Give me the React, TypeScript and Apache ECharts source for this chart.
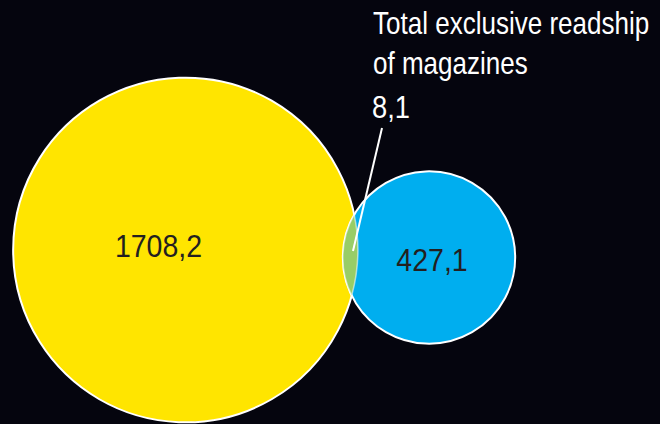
import React, { useEffect, useRef } from "react";
import * as echarts from "echarts";

// ---- data ----
const setNames = ["Set A", "Set B"];
const setValues = [1708.2, 427.1];
const overlapValue = 8.1;
const annotationLines = ["Total exclusive readship", "of magazines"];

// ---- layout / style ----
const W = 660;
const H = 424;
const centers = [
  [185.5, 250],
  [429, 257.5],
];
const labelOffsets = [
  [-27, -4],
  [3, 2.5],
];
const RADIUS_K = 4.17; // px per sqrt(value)
const colors = ["#FFE500", "#00AEEF"];
const lensColor = "#98CD67";
const bg = "#05050E";
const FONT = "'Liberation Sans', Arial, sans-serif";

const fmt = (v: number) => v.toFixed(1).replace(".", ",");

export default function App() {
  const ref = useRef<HTMLDivElement>(null);
  useEffect(() => {
    document.body.style.margin = "0";
    const chart = echarts.init(ref.current!, null, { renderer: "svg" });
    const circleData = setValues.map((v, i) => ({
      name: setNames[i],
      value: [centers[i][0], centers[i][1], v],
    }));
    chart.setOption({
      animation: false,
      backgroundColor: bg,
      grid: { left: 0, right: 0, top: 0, bottom: 0 },
      xAxis: { type: "value", min: 0, max: W, show: false },
      yAxis: { type: "value", min: 0, max: H, inverse: true, show: false },
      series: [
        {
          type: "custom",
          coordinateSystem: "cartesian2d",
          data: circleData,
          renderItem: (params: any, api: any) => {
            const i = params.dataIndex;
            const c = api.coord([api.value(0), api.value(1)]);
            const r = RADIUS_K * Math.sqrt(api.value(2));
            return {
              type: "circle",
              shape: { cx: c[0], cy: c[1], r },
              style: { fill: colors[i], stroke: "#ffffff", lineWidth: 2 },
            };
          },
        },
        {
          type: "custom",
          coordinateSystem: "cartesian2d",
          data: [[centers[1][0], centers[1][1], overlapValue]],
          z: 3,
          renderItem: (params: any, api: any) => {
            const c1 = api.coord(centers[0]);
            const c2 = api.coord(centers[1]);
            const r1 = RADIUS_K * Math.sqrt(setValues[0]);
            const r2 = RADIUS_K * Math.sqrt(setValues[1]);
            const dx = c2[0] - c1[0];
            const dy = c2[1] - c1[1];
            const d = Math.hypot(dx, dy);
            const a = (d * d + r1 * r1 - r2 * r2) / (2 * d);
            const h = Math.sqrt(Math.max(0, r1 * r1 - a * a));
            const px = c1[0] + (a * dx) / d;
            const py = c1[1] + (a * dy) / d;
            const p1 = [px - (h * dy) / d, py + (h * dx) / d];
            const p2 = [px + (h * dy) / d, py - (h * dx) / d];
            const pathData =
              `M${p1[0]},${p1[1]} A${r2},${r2} 0 0 1 ${p2[0]},${p2[1]} ` +
              `A${r1},${r1} 0 0 1 ${p1[0]},${p1[1]} Z`;
            return {
              type: "path",
              shape: { pathData },
              style: { fill: lensColor, stroke: "rgba(255,255,255,0.55)", lineWidth: 1.5 },
            };
          },
        },
        {
          type: "custom",
          coordinateSystem: "cartesian2d",
          data: circleData,
          z: 4,
          renderItem: (params: any, api: any) => {
            const i = params.dataIndex;
            const c = api.coord([api.value(0), api.value(1)]);
            return {
              type: "text",
              x: c[0] + labelOffsets[i][0],
              y: c[1] + labelOffsets[i][1],
              scaleX: 0.92,
              style: {
                text: fmt(api.value(2)),
                fill: "#231F20",
                fontSize: 31,
                fontFamily: FONT,
                align: "center",
                verticalAlign: "middle",
              },
            };
          },
        },
      ],
      graphic: [
        ...annotationLines.map((t, k) => ({
          type: "text",
          x: 373,
          y: 23.5 + k * 39.5,
          scaleX: 0.84,
          z: 10,
          style: {
            text: t,
            fill: "#ffffff",
            fontSize: 31,
            fontFamily: FONT,
            align: "left",
            verticalAlign: "middle",
          },
        })),
        {
          type: "text",
          x: 372,
          y: 107.5,
          scaleX: 0.88,
          z: 10,
          style: {
            text: fmt(overlapValue),
            fill: "#ffffff",
            fontSize: 31,
            fontFamily: FONT,
            align: "left",
            verticalAlign: "middle",
          },
        },
        {
          type: "line",
          z: 10,
          shape: { x1: 382, y1: 128, x2: 353, y2: 251 },
          style: { stroke: "#ffffff", lineWidth: 2 },
        },
      ],
    });
    return () => chart.dispose();
  }, []);
  return <div ref={ref} style={{ width: W, height: H }} />;
}
